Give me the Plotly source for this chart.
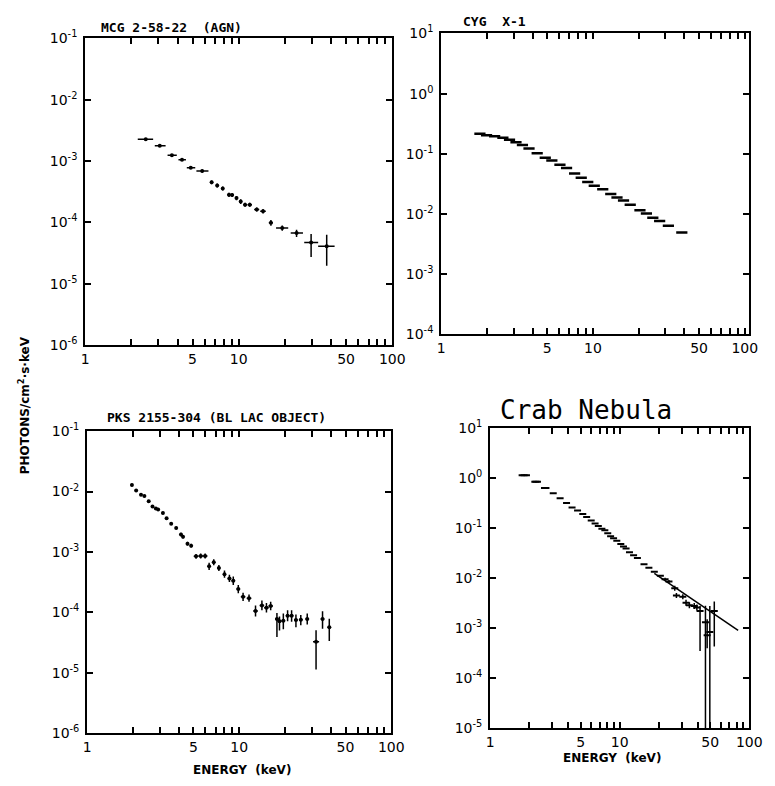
import numpy as np
import plotly.graph_objects as go

# ---------------- data ----------------
# MCG 2-58-22 (AGN)
mcg_e = [2.48, 3.06, 3.67, 4.27, 4.87, 5.78, 6.66, 7.24, 7.87, 8.64, 9.06, 9.67, 10.3, 11.0, 11.8,
         13.1, 14.4, 16.2, 19.2, 23.8, 29.6, 37.4]
mcg_f = [2.26e-3, 1.77e-3, 1.24e-3, 1.05e-3, 7.8e-4, 6.9e-4, 4.5e-4, 4.0e-4, 3.57e-4, 2.83e-4, 2.8e-4,
         2.5e-4, 2.19e-4, 1.94e-4, 1.94e-4, 1.62e-4, 1.52e-4, 9.9e-5, 8.1e-5, 6.7e-5, 4.7e-5, 4.1e-5]
mcg_e_lo = [2.20, 2.84, 3.44, 4.05, 4.59, 5.30, 6.51, 7.09, 7.72, 8.44, 8.86, 9.47, 10.1, 10.7, 11.4,
            12.6, 13.8, 15.7, 17.5, 21.8, 26.7, 32.9]
mcg_e_hi = [2.77, 3.34, 3.95, 4.53, 5.21, 6.35, 6.81, 7.39, 8.02, 8.84, 9.26, 9.87, 10.5, 11.3, 12.2,
            13.6, 15.0, 16.7, 21.0, 26.2, 32.9, 42.1]
mcg_f_lo = [2.15e-3, 1.70e-3, 1.18e-3, 1.0e-3, 7.4e-4, 6.5e-4, 4.2e-4, 3.7e-4, 3.3e-4, 2.6e-4, 2.6e-4,
            2.3e-4, 2.0e-4, 1.8e-4, 1.8e-4, 1.5e-4, 1.4e-4, 8.8e-5, 7.3e-5, 5.8e-5, 2.74e-5, 1.97e-5]
mcg_f_hi = [2.37e-3, 1.85e-3, 1.30e-3, 1.1e-3, 8.2e-4, 7.3e-4, 4.8e-4, 4.3e-4, 3.85e-4, 3.05e-4, 3.0e-4,
            2.7e-4, 2.38e-4, 2.1e-4, 2.1e-4, 1.75e-4, 1.65e-4, 1.1e-4, 8.9e-5, 7.6e-5, 6.5e-5, 6.3e-5]

# CYG X-1
cyg_e = [1.80, 1.99, 2.25, 2.55, 2.82, 3.11, 3.43, 3.79, 4.29, 4.85, 5.36, 6.06, 6.70, 7.57, 8.37,
         9.24, 10.2, 11.6, 13.1, 14.4, 15.9, 17.6, 20.4, 22.5, 24.8, 27.5, 31.4, 38.5]
cyg_f = [0.215, 0.203, 0.195, 0.185, 0.172, 0.156, 0.140, 0.123, 0.102, 0.0857, 0.0774, 0.0661, 0.0581,
         0.0471, 0.0400, 0.0340, 0.0294, 0.0259, 0.0215, 0.0189, 0.0167, 0.0143, 0.0115, 0.0102,
         0.00863, 0.00762, 0.00640, 0.00493]

# PKS 2155-304 (BL Lac object)
pks_e = [1.97, 2.10, 2.26, 2.38, 2.54, 2.69, 2.83, 2.93, 3.15, 3.33, 3.57, 3.85, 4.14, 4.27, 4.57,
         4.83, 5.20, 5.58, 5.97, 6.34, 6.80, 7.35, 8.00, 8.62, 9.14, 9.86, 10.6, 11.6, 12.8, 14.1,
         15.1, 16.1, 17.7, 18.4, 19.5, 20.8, 22.1, 23.6, 25.4, 28.0, 32.0, 35.3, 39.1]
pks_f = [1.28e-2, 1.035e-2, 8.8e-3, 8.4e-3, 6.87e-3, 5.64e-3, 5.24e-3, 5.05e-3, 4.4e-3, 3.6e-3,
         2.92e-3, 2.49e-3, 1.94e-3, 1.78e-3, 1.37e-3, 1.27e-3, 8.45e-4, 8.55e-4, 8.55e-4, 5.77e-4,
         6.76e-4, 5.41e-4, 4.28e-4, 3.64e-4, 3.34e-4, 2.42e-4, 1.80e-4, 1.71e-4, 1.05e-4, 1.30e-4,
         1.19e-4, 1.27e-4, 7.74e-5, 7.08e-5, 7.26e-5, 8.75e-5, 8.75e-5, 7.45e-5, 7.53e-5, 7.74e-5,
         3.24e-5, 7.74e-5, 5.66e-5]
# error half-sizes in decades (up / down) and energy half-width in decades
pks_up = [0.02, 0.02, 0.02, 0.02, 0.02, 0.02, 0.02, 0.02, 0.02, 0.02, 0.02, 0.02, 0.03, 0.03, 0.03,
          0.03, 0.04, 0.04, 0.04, 0.06, 0.05, 0.05, 0.06, 0.06, 0.07, 0.07, 0.07, 0.06, 0.09, 0.08,
          0.08, 0.07, 0.10, 0.08, 0.12, 0.09, 0.09, 0.09, 0.08, 0.09, 0.19, 0.13, 0.14]
pks_dn = [0.02, 0.02, 0.02, 0.02, 0.02, 0.02, 0.02, 0.02, 0.02, 0.02, 0.02, 0.02, 0.03, 0.03, 0.03,
          0.03, 0.04, 0.04, 0.04, 0.06, 0.05, 0.05, 0.06, 0.06, 0.07, 0.07, 0.07, 0.06, 0.09, 0.08,
          0.08, 0.07, 0.30, 0.15, 0.14, 0.09, 0.10, 0.12, 0.09, 0.09, 0.46, 0.16, 0.23]
pks_xd = [0.006, 0.006, 0.006, 0.006, 0.006, 0.006, 0.006, 0.006, 0.006, 0.006, 0.006, 0.006, 0.006,
          0.006, 0.008, 0.008, 0.015, 0.015, 0.015, 0.01, 0.01, 0.01, 0.01, 0.012, 0.012, 0.012,
          0.015, 0.015, 0.015, 0.015, 0.015, 0.015, 0.012, 0.012, 0.012, 0.012, 0.012, 0.012,
          0.012, 0.012, 0.02, 0.012, 0.012]

# Crab Nebula
crab_e = [1.83, 2.26, 2.66, 3.07, 3.47, 3.89, 4.29, 4.73, 5.19, 5.56, 6.03, 6.46, 6.84, 7.29, 7.68,
          8.09, 8.51, 8.97, 9.50, 10.2, 10.7, 11.2, 11.9, 12.8, 13.7, 15.4, 16.8, 18.5, 20.6, 22.4,
          24.0, 26.6, 27.4, 30.7, 32.5, 34.5, 37.6, 39.4, 41.7, 45.9, 47.3, 49.6, 53.7]
crab_f = [1.15, 0.851, 0.640, 0.502, 0.395, 0.320, 0.260, 0.227, 0.192, 0.168, 0.142, 0.124, 0.110,
          0.0977, 0.0906, 0.0791, 0.0691, 0.0631, 0.0562, 0.0482, 0.0429, 0.0392, 0.0332, 0.0286,
          0.0253, 0.0190, 0.0161, 0.0135, 0.0112, 0.0095, 0.0086, 0.0063, 0.0045, 0.00423, 0.00323,
          0.00287, 0.00278, 0.00258, 0.0022, 0.00131, 7.2e-4, 8.4e-4, 0.0022]
crab_up = [0, 0, 0, 0, 0, 0, 0, 0, 0, 0, 0, 0, 0, 0, 0, 0, 0, 0, 0, 0, 0, 0, 0, 0, 0, 0, 0, 0, 0,
           0.03, 0.03, 0.05, 0.05, 0.05, 0.06, 0.06, 0.06, 0.06, 0.10, 0.33, 0.32, 0.52, 0.19]
crab_dn = [0, 0, 0, 0, 0, 0, 0, 0, 0, 0, 0, 0, 0, 0, 0, 0, 0, 0, 0, 0, 0, 0, 0, 0, 0, 0, 0, 0, 0,
           0.03, 0.03, 0.05, 0.05, 0.05, 0.06, 0.06, 0.06, 0.06, 0.80, 3.20, 0.26, 3.00, 0.71]
crab_bin_lo = [1.66, 2.08, 2.47]
crab_bin_hi = [2.03, 2.47, 2.87]
crab_model_e = [18.5, 82.0]
crab_model_f = [0.0125, 9.0e-4]

# tick labels
x_ticks = [1, 2, 3, 4, 5, 6, 7, 8, 9, 10, 20, 30, 40, 50, 60, 70, 80, 90, 100]
x_labels = ["1", "", "", "", "5", "", "", "", "", "10", "", "", "", "50", "", "", "", "", "100"]

# ---------------- layout helpers ----------------
W, H = 775, 786
BLACK = "black"
TICKFONT = dict(family="DejaVu Sans", size=14, color=BLACK)

# panel frames in pixels: (left, right, top, bottom)
frames = {
    1: (83, 397, 29, 343),
    2: (447, 762, 24, 332),
    3: (85, 396, 431, 740),
    4: (497, 762, 428, 735),
}
x_ranges = {1: [0, 2], 2: [0, 2.03], 3: [0, 2], 4: [0, 2]}
y_decades = {1: (-6, -1), 2: (-4, 1), 3: (-6, -1), 4: (-5, 1)}

fig = go.Figure()


def ax_names(n):
    return ("x" if n == 1 else f"x{n}"), ("y" if n == 1 else f"y{n}")


def err_style(**kw):
    d = dict(type="data", symmetric=False, color=BLACK, thickness=1.5, width=0)
    d.update(kw)
    return d


# Panel 1: MCG
xa, ya = ax_names(1)
e = np.array(mcg_e); f = np.array(mcg_f)
fig.add_trace(go.Scatter(
    x=mcg_e, y=mcg_f, mode="markers", xaxis=xa, yaxis=ya, showlegend=False,
    marker=dict(color=BLACK, size=4),
    error_x=err_style(array=np.array(mcg_e_hi) - e, arrayminus=e - np.array(mcg_e_lo)),
    error_y=err_style(array=np.array(mcg_f_hi) - f, arrayminus=f - np.array(mcg_f_lo)),
))

# Panel 2: Cyg X-1
xa, ya = ax_names(2)
fig.add_trace(go.Scatter(
    x=cyg_e, y=cyg_f, mode="markers", xaxis=xa, yaxis=ya, showlegend=False,
    marker=dict(symbol="line-ew", size=8, color=BLACK, line=dict(color=BLACK, width=2.5)),
))

# Panel 3: PKS
xa, ya = ax_names(3)
e = np.array(pks_e); f = np.array(pks_f)
fig.add_trace(go.Scatter(
    x=pks_e, y=pks_f, mode="markers", xaxis=xa, yaxis=ya, showlegend=False,
    marker=dict(color=BLACK, size=4),
    error_x=err_style(array=e * (10 ** np.array(pks_xd) - 1), arrayminus=e * (1 - 10 ** -np.array(pks_xd))),
    error_y=err_style(array=f * (10 ** np.array(pks_up) - 1), arrayminus=f * (1 - 10 ** -np.array(pks_dn))),
))

# Panel 4: Crab
xa, ya = ax_names(4)
fig.add_trace(go.Scatter(
    x=crab_model_e, y=crab_model_f, mode="lines", xaxis=xa, yaxis=ya, showlegend=False,
    line=dict(color=BLACK, width=1.5),
))
e = np.array(crab_e); f = np.array(crab_f)
fig.add_trace(go.Scatter(
    x=crab_e, y=crab_f, mode="markers", xaxis=xa, yaxis=ya, showlegend=False,
    marker=dict(symbol="line-ew", size=5, color=BLACK, line=dict(color=BLACK, width=2)),
    error_y=err_style(array=f * (10 ** np.array(crab_up) - 1), arrayminus=f * (1 - 10 ** -np.array(crab_dn))),
))
eb = np.array(crab_e[:3])
fig.add_trace(go.Scatter(
    x=crab_e[:3], y=crab_f[:3], mode="markers", xaxis=xa, yaxis=ya, showlegend=False,
    marker=dict(color=BLACK, size=2),
    error_x=err_style(array=np.array(crab_bin_hi) - eb, arrayminus=eb - np.array(crab_bin_lo), thickness=2),
))

layout = dict(
    width=W, height=H, margin=dict(l=0, r=0, t=0, b=0),
    paper_bgcolor="white", plot_bgcolor="white", showlegend=False,
    font=dict(family="DejaVu Sans", color=BLACK),
)

for n, (l, r, t, b) in frames.items():
    xa, ya = ax_names(n)
    xkey = "xaxis" if n == 1 else f"xaxis{n}"
    ykey = "yaxis" if n == 1 else f"yaxis{n}"
    lo, hi = y_decades[n]
    yv = [10.0 ** k for k in range(lo, hi + 1)]
    yt = [f"10<sup>{k}</sup>" for k in range(lo, hi + 1)]
    common = dict(type="log", showgrid=False, zeroline=False, showline=True, linecolor=BLACK,
                  linewidth=2, mirror="ticks", ticks="inside", ticklen=6, tickwidth=1.5,
                  tickcolor=BLACK, tickfont=TICKFONT, fixedrange=True)
    layout[xkey] = dict(common, domain=[l / W, r / W], range=x_ranges[n], anchor=ya,
                        tickmode="array", tickvals=x_ticks, ticktext=x_labels)
    layout[ykey] = dict(common, domain=[1 - b / H, 1 - t / H], range=[lo, hi], anchor=xa,
                        tickmode="array", tickvals=yv, ticktext=yt, ticklabelstandoff=3)

title_font = dict(family="DejaVu Sans Mono", size=13, color=BLACK, weight="bold")
annotations = [
    dict(text="MCG 2-58-22  (AGN)", x=97 / W, y=1 - 18 / H, xanchor="left", yanchor="middle",
         font=title_font),
    dict(text="CYG  X-1", x=467 / W, y=1 - 12 / H, xanchor="left", yanchor="middle", font=title_font),
    dict(text="PKS 2155-304 (BL LAC OBJECT)", x=103 / W, y=1 - 417 / H, xanchor="left",
         yanchor="middle", font=title_font),
    dict(text="Crab Nebula", x=505 / W, y=1 - 409 / H, xanchor="left", yanchor="middle",
         font=dict(family="DejaVu Sans Mono", size=26, color=BLACK)),
    dict(text="ENERGY  (keV)", x=243 / W, y=1 - 778 / H, xanchor="center", yanchor="middle",
         font=dict(family="DejaVu Sans", size=12, color=BLACK, weight="bold")),
    dict(text="ENERGY  (keV)", x=622 / W, y=1 - 766 / H, xanchor="center", yanchor="middle",
         font=dict(family="DejaVu Sans", size=12, color=BLACK, weight="bold")),
    dict(text="PHOTONS/cm<sup>2</sup>·s·keV", x=20 / W, y=1 - 405 / H, xanchor="center",
         yanchor="middle", textangle=-90,
         font=dict(family="DejaVu Sans", size=12, color=BLACK, weight="bold")),
]
for a in annotations:
    a.update(xref="paper", yref="paper", showarrow=False)
layout["annotations"] = annotations

fig.update_layout(**layout)
fig.write_html("out.html")
